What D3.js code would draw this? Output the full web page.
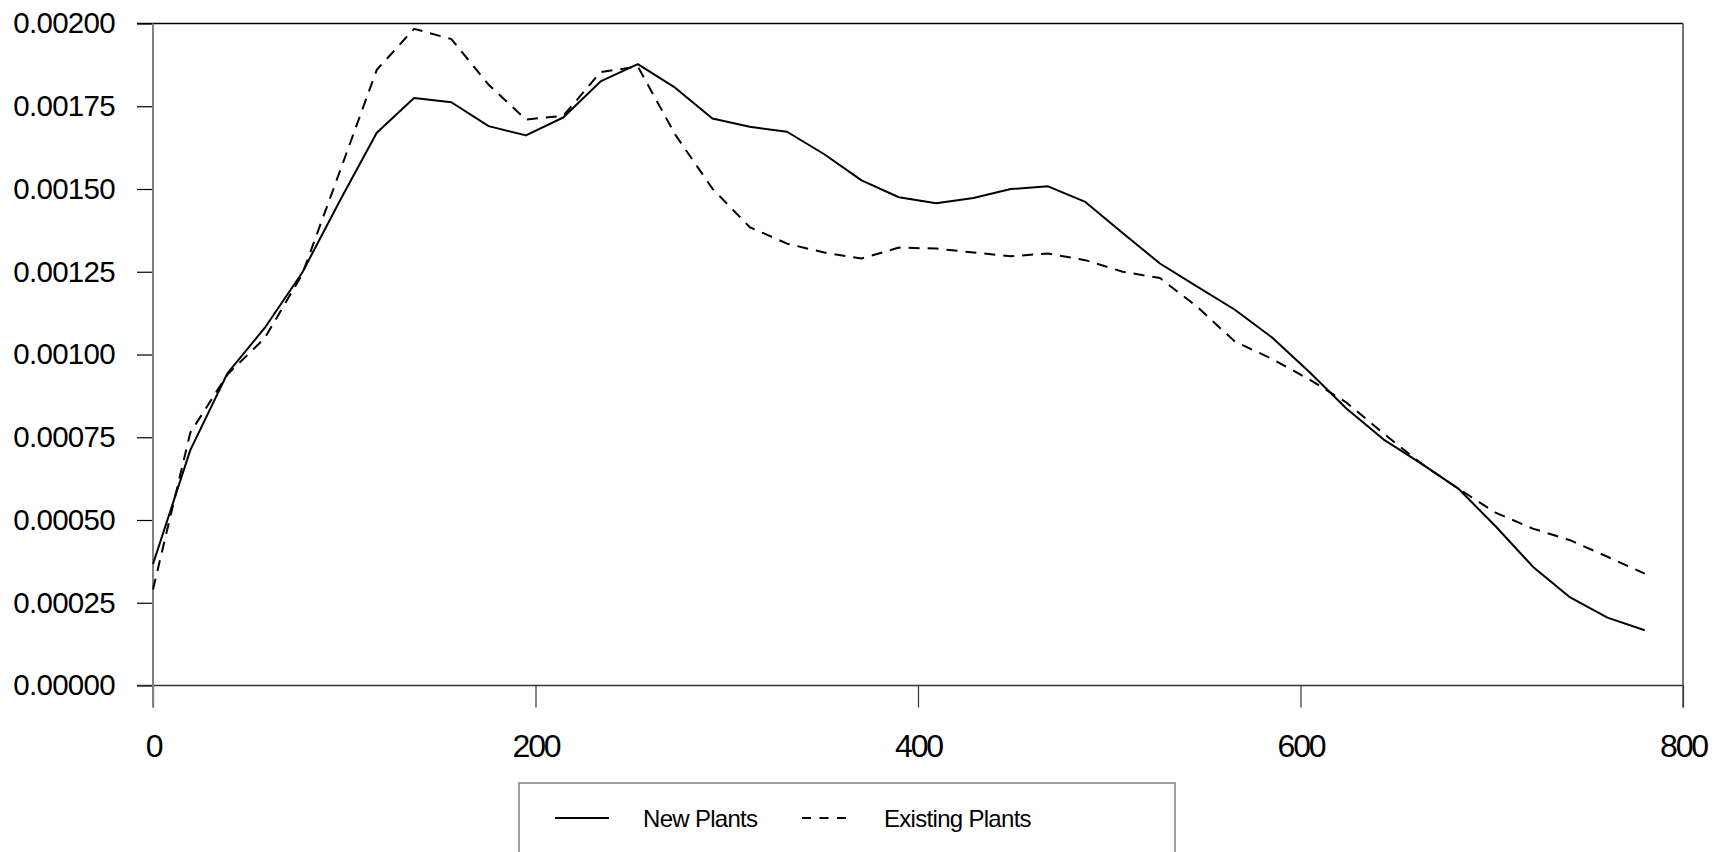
<!DOCTYPE html>
<html>
<head>
<meta charset="utf-8">
<script src="https://cdn.jsdelivr.net/npm/d3@7"></script>
<style>
  html, body { margin: 0; padding: 0; background: #fff; }
  svg { display: block; font-family: "Liberation Sans", Arial, sans-serif; }
</style>
</head>
<body>
<svg id="chart" width="1726" height="852"></svg>
<script>
// ---- data ----
const xStep = 19.5;
const newPlants = [0.000367, 0.000711, 0.000944, 0.001081, 0.001247, 0.001462, 0.001670, 0.001775, 0.001762, 0.001690,
  0.001662, 0.001716, 0.001825, 0.001877, 0.001806, 0.001713, 0.001688, 0.001673, 0.001605, 0.001526,
  0.001475, 0.001457, 0.001473, 0.001500, 0.001508, 0.001461, 0.001367, 0.001275, 0.001205, 0.001136,
  0.001052, 0.000948, 0.000837, 0.000743, 0.000671, 0.000595, 0.000481, 0.000359, 0.000266, 0.000205, 0.000167];
const existingPlants = [0.000290, 0.000764, 0.000940, 0.001050, 0.001242, 0.001550, 0.001860, 0.001984, 0.001953, 0.001815,
  0.001710, 0.001721, 0.001853, 0.001870, 0.001665, 0.001501, 0.001385, 0.001335, 0.001308, 0.001290,
  0.001323, 0.001320, 0.001308, 0.001297, 0.001305, 0.001285, 0.001250, 0.001231, 0.001144, 0.001040,
  0.000987, 0.000925, 0.000855, 0.000761, 0.000671, 0.000595, 0.000522, 0.000474, 0.000439, 0.000389, 0.000338];
const xTicks = [0, 200, 400, 600, 800];
const yTicks = [0, 0.00025, 0.0005, 0.00075, 0.001, 0.00125, 0.0015, 0.00175, 0.002];
const seriesNames = ["New Plants", "Existing Plants"];

// ---- layout ----
const L = 153, R = 1683, T = 23.5, B = 685.5;
const svg = d3.select("#chart");
const x = d3.scaleLinear().domain([0, 800]).range([L, R]);
const y = d3.scaleLinear().domain([0, 0.002]).range([B, T]);

// y axis
const yAxis = svg.append("g").attr("transform", `translate(${L},0)`)
  .call(d3.axisLeft(y).tickValues(yTicks).tickFormat(d3.format(".5f")).tickSize(16).tickPadding(22));
yAxis.select(".domain").remove();
yAxis.selectAll(".tick line").attr("stroke", "#000").attr("stroke-width", 1.2);
yAxis.selectAll(".tick text").attr("font-size", 29.5).attr("fill", "#000")
  .attr("letter-spacing", -0.7).attr("font-family", "Liberation Sans, Arial, sans-serif");

// x axis
const xAxis = svg.append("g").attr("transform", `translate(0,${B})`)
  .call(d3.axisBottom(x).tickValues(xTicks).tickFormat(d3.format("d")).tickSize(22).tickPadding(27));
xAxis.select(".domain").remove();
xAxis.selectAll(".tick line").attr("stroke", "#333").attr("stroke-width", 1.2);
xAxis.selectAll(".tick text").attr("font-size", 32).attr("fill", "#000")
  .attr("letter-spacing", -2.2).attr("font-family", "Liberation Sans, Arial, sans-serif");

// frame
svg.append("line").attr("x1", L - 16).attr("x2", R).attr("y1", T).attr("y2", T)
  .attr("stroke", "#000").attr("stroke-width", 1.5);
svg.append("line").attr("x1", L - 16).attr("x2", R).attr("y1", B).attr("y2", B)
  .attr("stroke", "#333").attr("stroke-width", 1.5);
svg.append("line").attr("x1", L).attr("x2", L).attr("y1", T).attr("y2", B + 22)
  .attr("stroke", "#808080").attr("stroke-width", 2);
svg.append("line").attr("x1", R).attr("x2", R).attr("y1", T).attr("y2", B + 22)
  .attr("stroke", "#444").attr("stroke-width", 1.5);

// lines
const line = d3.line().x((d, i) => x(i * xStep)).y(d => y(d));
svg.append("path").datum(newPlants).attr("d", line)
  .attr("fill", "none").attr("stroke", "#000").attr("stroke-width", 2).attr("stroke-linejoin", "round");
svg.append("path").datum(existingPlants).attr("d", line)
  .attr("fill", "none").attr("stroke", "#000").attr("stroke-width", 2).attr("stroke-dasharray", "11,8");

// legend
const lg = svg.append("g");
lg.append("rect").attr("x", 519).attr("y", 783).attr("width", 656).attr("height", 100)
  .attr("fill", "#fff").attr("stroke", "#808080").attr("stroke-width", 1.5);
const ly = 818;
lg.append("line").attr("x1", 555).attr("x2", 609).attr("y1", ly).attr("y2", ly)
  .attr("stroke", "#000").attr("stroke-width", 2);
lg.append("text").attr("x", 643).attr("y", ly).attr("dy", "0.36em").attr("font-size", 24)
  .attr("letter-spacing", -0.7).text(seriesNames[0]);
lg.append("line").attr("x1", 802).attr("x2", 846).attr("y1", ly).attr("y2", ly)
  .attr("stroke", "#000").attr("stroke-width", 2).attr("stroke-dasharray", "9,8.5");
lg.append("text").attr("x", 884).attr("y", ly).attr("dy", "0.36em").attr("font-size", 24)
  .attr("letter-spacing", -0.7).text(seriesNames[1]);
</script>
</body>
</html>
